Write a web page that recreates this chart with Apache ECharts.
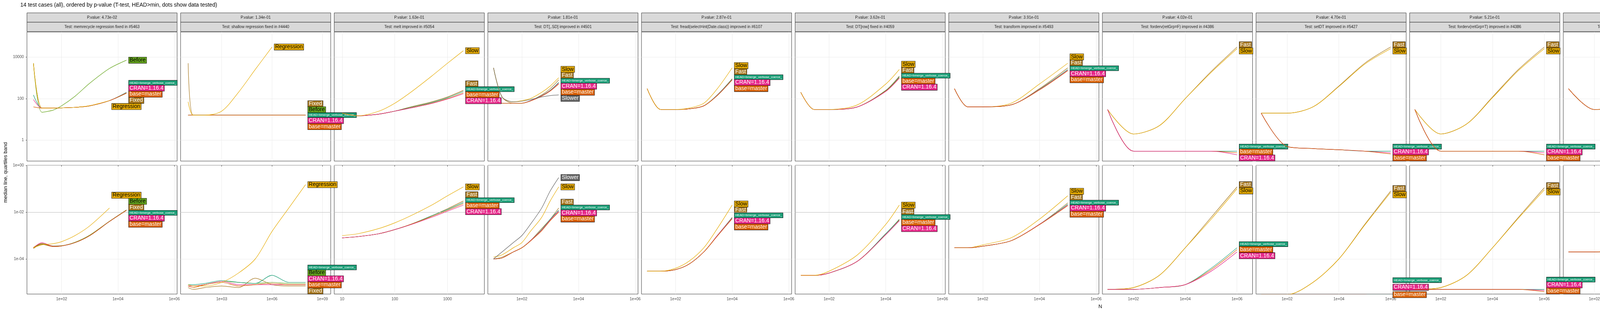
<!DOCTYPE html>
<html>
<head>
<meta charset="utf-8">
<script src="https://cdn.jsdelivr.net/npm/echarts@6/dist/echarts.min.js"></script>
<style>
    html, body { margin: 0; padding: 0; background: #fff; }
    #perf_facets { width: 5600px; height: 800px; }
</style>
</head>
<body>
<div id="perf_facets"></div>
<script>

// Setup module
// ------------------------------

var EchartsPerfFacets = function() {

    // Palette (Dark2)
    var GOLD = '#E6AB02', BROWN = '#A6761D', GREEN = '#66A61E', PINK = '#E7298A',
        ORANGE = '#D95F02', TEAL = '#1B9E77', GREY = '#666666';

    var HEAD = 'HEAD=bmerge_verbose_coerce_', CRAN = 'CRAN=1.16.4', BASE = 'base=master';

    // Panels: N values, then per series memory (kilobytes) and time (seconds)
    var panels = [
        { p: '4.73e-02', t: 'Test: memrecycle regression fixed in #5463', xr: [0.77, 6.1], xt: [2, 4, 6], fmt: 'sci',
          N: [10, 20, 50, 100, 300, 1000, 5000, 20000],
          s: [
            { n: 'Before', c: GREEN, m: [5000, 22, 28, 45, 130, 550, 2800, 7000], t: [3e-4, 4.6e-4, 3.6e-4, 3.7e-4, 5.2e-4, 1.05e-3, 4.1e-3, 1.25e-2] },
            { n: 'Fixed', c: BROWN, m: [5000, 35, 35, 36, 38, 45, 80, 180], t: [2.8e-4, 4.2e-4, 3.4e-4, 3.6e-4, 5e-4, 1e-3, 4e-3, 1.2e-2] },
            { n: HEAD, c: TEAL, m: [150, 35, 35, 36, 38, 45, 80, 200], t: [3e-4, 4.4e-4, 3.5e-4, 3.6e-4, 5e-4, 1e-3, 4e-3, 1.2e-2] },
            { n: CRAN, c: PINK, m: [90, 35, 35, 36, 38, 45, 80, 190], t: [3e-4, 5e-4, 3.5e-4, 3.6e-4, 5e-4, 1e-3, 4e-3, 1.2e-2] },
            { n: BASE, c: ORANGE, m: [40, 35, 35, 36, 38, 45, 80, 185], t: [3.1e-4, 4.5e-4, 3.4e-4, 3.6e-4, 5e-4, 1e-3, 4e-3, 1.2e-2] },
            { n: 'Regression', c: GOLD, m: [5000, 35, 35, 36, 38, 46, 80], t: [3e-4, 4e-4, 4.5e-4, 5.5e-4, 1e-3, 2.6e-3, 1.5e-2] }
          ] },
        { p: '1.34e-01', t: 'Test: shallow regression fixed in #4440', xr: [0.55, 9.5], xt: [3, 6, 9], fmt: 'sci',
          N: [10, 20, 100, 1000, 1e4, 1e5, 1e6, 1e7, 1e8],
          s: [
            { n: 'Fixed', c: BROWN, m: [5000, 16, 16, 16, 16, 16, 16, 16, 16], t: [6e-6, 5e-6, 6e-6, 7e-6, 6e-6, 1.5e-5, 8e-6, 7e-6, 7e-6] },
            { n: 'Before', c: GREEN, m: [16, 16, 16, 16, 16, 16, 16, 16, 16], t: [7e-6, 7e-6, 8e-6, 1.1e-5, 1e-5, 9e-6, 1e-5, 9e-6, 9e-6] },
            { n: HEAD, c: TEAL, m: [16, 16, 16, 16, 16, 16, 16, 16, 16], t: [8e-6, 8e-6, 9e-6, 1.2e-5, 1e-5, 9e-6, 2e-5, 1e-5, 1e-5] },
            { n: CRAN, c: PINK, m: [16, 16, 16, 16, 16, 16, 16, 16, 16], t: [7e-6, 7e-6, 8e-6, 1.1e-5, 8e-6, 8e-6, 8e-6, 8e-6, 8e-6] },
            { n: BASE, c: ORANGE, m: [16, 16, 16, 16, 16, 16, 16, 16, 16], t: [7e-6, 6e-6, 8e-6, 1e-5, 7e-6, 8e-6, 9e-6, 8e-6, 8e-6] },
            { n: 'Regression', c: GOLD, m: [70, 16, 16, 25, 200, 2500, 30000], t: [8e-6, 7e-6, 7e-6, 1e-5, 2.5e-5, 1e-4, 1.5e-3, 1.5e-2, 1.5e-1] }
          ] },
        { p: '1.63e-01', t: 'Test: melt improved in #5054', xr: [0.85, 3.7], xt: [1, 2, 3], fmt: 'plain',
          N: [10, 20, 50, 100, 200, 500, 1000, 2000],
          s: [
            { n: 'Fast', c: BROWN, m: [20, 15, 18, 25, 40, 70, 120, 250], t: [8e-4, 9e-4, 1.2e-3, 1.8e-3, 3e-3, 7e-3, 1.4e-2, 3e-2] },
            { n: HEAD, c: TEAL, m: [20, 15, 18, 25, 38, 65, 110, 220], t: [8e-4, 9e-4, 1.2e-3, 1.8e-3, 3e-3, 7e-3, 1.3e-2, 2.6e-2] },
            { n: BASE, c: ORANGE, m: [20, 15, 18, 25, 36, 60, 100, 190], t: [8e-4, 9e-4, 1.2e-3, 1.8e-3, 3e-3, 6.5e-3, 1.2e-2, 2.3e-2] },
            { n: CRAN, c: PINK, m: [20, 15, 18, 25, 35, 58, 95, 170], t: [8e-4, 9e-4, 1.2e-3, 1.8e-3, 2.9e-3, 6e-3, 1.1e-2, 2e-2] },
            { n: 'Slow', c: GOLD, m: [20, 15, 25, 60, 200, 1200, 5000, 20000], t: [1e-3, 1.2e-3, 2e-3, 3.5e-3, 7e-3, 2e-2, 5e-2, 1.2e-1] }
          ] },
        { p: '1.81e-01', t: 'Test: DT[,.SD] improved in #4501', xr: [0.8, 6.1], xt: [2, 4, 6], fmt: 'sci',
          N: [10, 20, 50, 100, 200, 500, 1000, 2000],
          s: [
            { n: 'Fast', c: BROWN, m: [3000, 120, 60, 60, 80, 150, 300, 800], t: [1e-4, 1.2e-4, 2e-4, 3e-4, 6e-4, 2e-3, 5e-3, 1.5e-2] },
            { n: HEAD, c: TEAL, m: [150, 60, 60, 60, 80, 140, 250, 600], t: [1e-4, 1.1e-4, 2e-4, 3e-4, 6e-4, 1.8e-3, 5e-3, 1.2e-2] },
            { n: CRAN, c: PINK, m: [100, 60, 60, 60, 78, 135, 240, 550], t: [1e-4, 1.1e-4, 2e-4, 3e-4, 6e-4, 1.7e-3, 4.6e-3, 1.1e-2] },
            { n: BASE, c: ORANGE, m: [60, 60, 60, 60, 76, 130, 230, 500], t: [1e-4, 1.1e-4, 2e-4, 3e-4, 5.8e-4, 1.6e-3, 4.3e-3, 1e-2] },
            { n: 'Slow', c: GOLD, m: [3000, 120, 70, 80, 100, 200, 400, 1000], t: [1.2e-4, 1.5e-4, 3e-4, 5e-4, 1.5e-3, 6e-3, 3e-2, 1.2e-1] },
            { n: 'Slower', c: GREY, m: [3000, 120, 70, 75, 90, 120, 140, 150], t: [1e-4, 2e-4, 5e-4, 1e-3, 3e-3, 1.5e-2, 8e-2, 3e-1] }
          ] },
        { p: '2.87e-01', t: 'Test: fread(select=int(Date.class)) improved in #6107', xr: [0.8, 6.1], xt: [2, 4, 6], fmt: 'sci',
          N: [10, 30, 100, 300, 1000, 3000, 10000],
          s: [
            { n: 'Fast', c: BROWN, m: [300, 30, 30, 32, 45, 150, 900], t: [3e-5, 3e-5, 3.5e-5, 6e-5, 2e-4, 1e-3, 6e-3] },
            { n: HEAD, c: TEAL, m: [300, 30, 30, 32, 45, 150, 850], t: [3e-5, 3e-5, 3.5e-5, 6e-5, 2e-4, 1e-3, 5.8e-3] },
            { n: CRAN, c: PINK, m: [300, 30, 30, 32, 45, 145, 800], t: [3e-5, 3e-5, 3.5e-5, 6e-5, 2e-4, 1e-3, 5.5e-3] },
            { n: BASE, c: ORANGE, m: [300, 30, 30, 32, 45, 140, 780], t: [3e-5, 3e-5, 3.5e-5, 6e-5, 2e-4, 9.5e-4, 5.2e-3] },
            { n: 'Slow', c: GOLD, m: [300, 30, 30, 35, 60, 300, 3000], t: [3e-5, 3e-5, 4e-5, 8e-5, 3e-4, 2e-3, 2e-2] }
          ] },
        { p: '3.62e-01', t: 'Test: DT[row] fixed in #4059', xr: [0.8, 6.1], xt: [2, 4, 6], fmt: 'sci',
          N: [10, 30, 100, 1000, 10000, 30000],
          s: [
            { n: 'Fast', c: BROWN, m: [200, 30, 30, 40, 250, 1200], t: [2e-5, 2e-5, 2.5e-5, 8e-5, 1.2e-3, 5e-3] },
            { n: HEAD, c: TEAL, m: [200, 30, 30, 40, 240, 1100], t: [2e-5, 2e-5, 2.5e-5, 8e-5, 1.2e-3, 4.8e-3] },
            { n: BASE, c: ORANGE, m: [200, 30, 30, 40, 230, 1000], t: [2e-5, 2e-5, 2.5e-5, 8e-5, 1.1e-3, 4.5e-3] },
            { n: CRAN, c: PINK, m: [200, 30, 30, 40, 220, 950], t: [2e-5, 2e-5, 2.5e-5, 8e-5, 1.1e-3, 4.3e-3] },
            { n: 'Slow', c: GOLD, m: [200, 30, 30, 50, 500, 2500], t: [2e-5, 2e-5, 3e-5, 1.5e-4, 3e-3, 2e-2] }
          ] },
        { p: '3.91e-01', t: 'Test: transform improved in #5493', xr: [0.8, 6.1], xt: [2, 4, 6], fmt: 'sci',
          N: [10, 30, 100, 1000, 10000, 100000],
          s: [
            { n: 'Fast', c: BROWN, m: [300, 40, 40, 50, 300, 3000], t: [3e-4, 3e-4, 3.5e-4, 6e-4, 3e-3, 2.5e-2] },
            { n: 'Slow', c: GOLD, m: [300, 40, 40, 60, 500, 5000], t: [3e-4, 3e-4, 4e-4, 8e-4, 5e-3, 5e-2] },
            { n: HEAD, c: TEAL, m: [300, 40, 40, 50, 280, 2500], t: [3e-4, 3e-4, 3.5e-4, 6e-4, 3e-3, 2.2e-2] },
            { n: CRAN, c: PINK, m: [300, 40, 40, 50, 270, 2300], t: [3e-4, 3e-4, 3.5e-4, 6e-4, 3e-3, 2e-2] },
            { n: BASE, c: ORANGE, m: [300, 40, 40, 50, 260, 2200], t: [3e-4, 3e-4, 3.5e-4, 6e-4, 2.9e-3, 1.9e-2] }
          ] },
        { p: '4.02e-01', t: 'Test: forderv(retGrp=F) improved in #4386', xr: [0.8, 6.6], xt: [2, 4, 6], fmt: 'sci',
          N: [10, 100, 1000, 10000, 100000, 1000000],
          s: [
            { n: 'Fast', c: BROWN, m: [30, 2, 5, 100, 2000, 30000], t: [5e-6, 6e-6, 2e-5, 3e-4, 6e-3, 1.2e-1] },
            { n: 'Slow', c: GOLD, m: [30, 2, 5, 100, 1800, 25000], t: [5e-6, 6e-6, 2e-5, 3e-4, 5e-3, 1e-1] },
            { n: HEAD, c: TEAL, m: [30, 0.3, 0.3, 0.3, 0.3, 0.3], t: [5e-6, 5e-6, 6e-6, 8e-6, 4e-5, 3e-4] },
            { n: BASE, c: ORANGE, m: [30, 0.3, 0.3, 0.3, 0.3, 0.25], t: [5e-6, 5e-6, 6e-6, 8e-6, 3.5e-5, 2.5e-4] },
            { n: CRAN, c: PINK, m: [30, 0.3, 0.3, 0.3, 0.3, 0.2], t: [5e-6, 5e-6, 6e-6, 8e-6, 3e-5, 2e-4] }
          ] },
        { p: '4.70e-01', t: 'Test: setDT improved in #5427', xr: [0.8, 6.6], xt: [2, 4, 6], fmt: 'sci',
          N: [10, 100, 1000, 10000, 100000, 1000000],
          s: [
            { n: 'Fast', c: BROWN, m: [20, 20, 40, 400, 5000, 30000], t: [3e-6, 3e-6, 1e-5, 1e-4, 3e-3, 8e-2] },
            { n: 'Slow', c: GOLD, m: [20, 20, 40, 380, 4500, 25000], t: [3e-6, 3e-6, 1e-5, 1e-4, 2.8e-3, 7e-2] },
            { n: HEAD, c: TEAL, m: [20, 0.5, 0.4, 0.35, 0.3, 0.3], t: [3e-6, 3e-6, 3e-6, 3e-6, 3e-6, 3e-6] },
            { n: CRAN, c: PINK, m: [20, 0.5, 0.4, 0.35, 0.3, 0.25], t: [3e-6, 3e-6, 3e-6, 3e-6, 3e-6, 2.5e-6] },
            { n: BASE, c: ORANGE, m: [20, 0.5, 0.4, 0.35, 0.3, 0.22], t: [3e-6, 3e-6, 3e-6, 3e-6, 3e-6, 2.2e-6] }
          ] },
        { p: '5.21e-01', t: 'Test: forderv(retGrp=T) improved in #4386', xr: [0.8, 6.6], xt: [2, 4, 6], fmt: 'sci',
          N: [10, 100, 1000, 10000, 100000, 1000000],
          s: [
            { n: 'Fast', c: BROWN, m: [30, 2, 6, 120, 2500, 30000], t: [5e-6, 6e-6, 2e-5, 3e-4, 6e-3, 1.1e-1] },
            { n: 'Slow', c: GOLD, m: [30, 2, 6, 110, 2200, 25000], t: [5e-6, 6e-6, 2e-5, 3e-4, 5.5e-3, 9e-2] },
            { n: HEAD, c: TEAL, m: [30, 0.3, 0.3, 0.3, 0.3, 0.3], t: [5e-6, 5e-6, 5e-6, 5e-6, 5e-6, 5e-6] },
            { n: CRAN, c: PINK, m: [30, 0.3, 0.3, 0.3, 0.3, 0.25], t: [5e-6, 5e-6, 5e-6, 5e-6, 5e-6, 4.5e-6] },
            { n: BASE, c: ORANGE, m: [30, 0.3, 0.3, 0.3, 0.3, 0.2], t: [5e-6, 5e-6, 5e-6, 5e-6, 5e-6, 4e-6] }
          ] },
        { p: '5.53e-01', t: 'Test: DT[by,verbose=TRUE] improved in #6296', xr: [0.8, 6.6], xt: [2, 4, 6], fmt: 'sci',
          N: [10, 100, 1000, 10000, 100000, 1000000],
          s: [
            { n: 'Fast', c: BROWN, m: [300, 30, 35, 60, 400, 4000], t: [2e-4, 2e-4, 2.5e-4, 6e-4, 4e-3, 4e-2] },
            { n: 'Slow', c: GOLD, m: [300, 30, 35, 70, 600, 6000], t: [2e-4, 2e-4, 3e-4, 8e-4, 6e-3, 6e-2] },
            { n: HEAD, c: TEAL, m: [300, 30, 35, 60, 380, 3500], t: [2e-4, 2e-4, 2.5e-4, 6e-4, 3.8e-3, 3.6e-2] },
            { n: CRAN, c: PINK, m: [300, 30, 35, 60, 360, 3200], t: [2e-4, 2e-4, 2.5e-4, 6e-4, 3.6e-3, 3.3e-2] },
            { n: BASE, c: ORANGE, m: [300, 30, 35, 60, 350, 3000], t: [2e-4, 2e-4, 2.5e-4, 6e-4, 3.5e-3, 3e-2] }
          ] },
        { p: '7.44e-01', t: 'Test: fread(colClasses=Date) fixed in #6107', xr: [0.8, 6.1], xt: [2, 4, 6], fmt: 'sci',
          N: [10, 100, 1000, 10000, 100000],
          s: [
            { n: 'Fast', c: BROWN, m: [50, 30, 50, 300, 3000], t: [1e-4, 1.5e-4, 6e-4, 5e-3, 5e-2] },
            { n: HEAD, c: TEAL, m: [50, 30, 50, 280, 2600], t: [1e-4, 1.5e-4, 6e-4, 4.5e-3, 4e-2] },
            { n: 'Slow', c: GOLD, m: [50, 30, 55, 350, 2000], t: [1e-4, 1.6e-4, 7e-4, 6e-3, 3e-2] },
            { n: CRAN, c: PINK, m: [50, 30, 50, 260, 1500], t: [1e-4, 1.5e-4, 6e-4, 4e-3, 2e-2] },
            { n: BASE, c: ORANGE, m: [50, 30, 50, 250, 1300], t: [1e-4, 1.5e-4, 6e-4, 3.8e-3, 1.8e-2] }
          ] },
        { p: '8.64e-01', t: 'Test: fread(colClasses=Date[data.frame]) improved in #6107', xr: [0.8, 6.1], xt: [2, 4, 6], fmt: 'sci',
          N: [10, 100, 1000, 10000, 100000],
          s: [
            { n: 'Fast', c: BROWN, m: [40, 25, 45, 300, 3500], t: [1e-4, 1.4e-4, 5e-4, 4e-3, 4e-2] },
            { n: 'Slow', c: GOLD, m: [40, 25, 45, 280, 2800], t: [1e-4, 1.4e-4, 5e-4, 3.8e-3, 3.5e-2] },
            { n: HEAD, c: TEAL, m: [40, 25, 45, 270, 2500], t: [1e-4, 1.4e-4, 5e-4, 3.6e-3, 3.2e-2] },
            { n: CRAN, c: PINK, m: [40, 25, 45, 260, 2200], t: [1e-4, 1.4e-4, 5e-4, 3.4e-3, 2.8e-2] },
            { n: BASE, c: ORANGE, m: [40, 25, 45, 250, 2000], t: [1e-4, 1.4e-4, 5e-4, 3.3e-3, 2.6e-2] }
          ] },
        { p: '8.80e-01', t: 'Test: fwrite refactored in #6393', xr: [0.86, 4.15], xt: [1, 2, 3, 4], fmt: 'plain',
          N: [10, 20, 50, 100, 200, 500, 1000],
          s: [
            { n: 'PR', c: GREY, m: [20000, 0.7, 0.7, 0.7, 0.7, 0.7, 0.7], t: [1e-5, 2e-5, 5e-5, 1e-4, 2.2e-4, 1e-3, 1.1e-2] },
            { n: HEAD, c: TEAL, m: [20000, 0.7, 0.7, 0.7, 0.7, 0.7, 0.7], t: [1e-5, 2e-5, 5e-5, 1e-4, 2.2e-4, 1e-3, 1.1e-2] },
            { n: BASE, c: ORANGE, m: [20000, 0.7, 0.7, 0.7, 0.7, 0.7, 0.7], t: [1e-5, 2e-5, 5e-5, 1e-4, 2.2e-4, 1e-3, 1.1e-2] },
            { n: 'Before', c: GREEN, m: [0.12, 0.12, 0.12, 0.12, 0.12, 0.12, 0.12], t: [1e-5, 2e-5, 5e-5, 1e-4, 2.2e-4, 1e-3, 1.1e-2] },
            { n: CRAN, c: PINK, m: [0.12, 0.12, 0.12, 0.12, 0.12, 0.12, 0.12], t: [1e-5, 2e-5, 5e-5, 1e-4, 2.2e-4, 1e-3, 1.1e-2] }
          ] }
    ];

    var FONT = '"Liberation Sans Narrow", "Liberation Sans", sans-serif';
    var LEFT = 69, PW = 384.4, GAP = 8.9;
    var ROWS = [ { top: 82, h: 331, key: 'm', min: -1, max: 5.2, unit: 'unit: kilobytes' },
                 { top: 424, h: 330, key: 't', min: -5.5, max: 0, unit: 'unit: seconds' } ];

    var sci = function(v) {
        var e = Math.round(v);
        return '1e' + (e < 0 ? '-' : '+') + (Math.abs(e) < 10 ? '0' : '') + Math.abs(e);
    };
    var intsIn = function(a, b) {
        var out = [];
        for (var k = Math.ceil(a); k <= b; k++) out.push(k);
        return out;
    };

    var _perfFacets = function() {
        if (typeof echarts == 'undefined') {
            console.warn('Warning - echarts.min.js is not loaded.');
            return;
        }
        var el = document.getElementById('perf_facets');
        if (!el) return;
        var chart = echarts.init(el);

        var grid = [], xAxis = [], yAxis = [], series = [], graphic = [];

        // Title and axis names
        graphic.push({ type: 'text', left: 52, top: 6, style: { text: '14 test cases (all), ordered by p-value (T-test, HEAD>min, dots show data tested)', font: '14px ' + FONT, fill: '#000' } });
        graphic.push({ type: 'text', x: 8, y: 520, rotation: Math.PI / 2, style: { text: 'median line, quartiles band', font: '13px ' + FONT, fill: '#000' } });
        graphic.push({ type: 'text', x: 2812, y: 780, style: { text: 'N', font: '13px ' + FONT, fill: '#000' } });

        ROWS.forEach(function(row, r) {
            graphic.push({ type: 'rect', shape: { x: 5568, y: row.top, width: 24, height: row.h }, style: { fill: '#D9D9D9', stroke: '#333', lineWidth: 1 } });
            graphic.push({ type: 'text', x: 5574, y: row.top + row.h / 2 - 30, rotation: -Math.PI / 2, style: { text: row.unit, font: '10px ' + FONT, fill: '#1a1a1a' } });
        });

        panels.forEach(function(pn, i) {
            var left = LEFT + i * (PW + GAP);

            // Strips
            graphic.push({ type: 'rect', shape: { x: left, y: 33, width: PW, height: 24 }, style: { fill: '#D9D9D9', stroke: '#333', lineWidth: 1 } });
            graphic.push({ type: 'rect', shape: { x: left, y: 57, width: PW, height: 24 }, style: { fill: '#D9D9D9', stroke: '#333', lineWidth: 1 } });
            graphic.push({ type: 'text', x: left + PW / 2, y: 45, style: { text: 'P.value: ' + pn.p, font: '10px ' + FONT, fill: '#1a1a1a', align: 'center', verticalAlign: 'middle' } });
            graphic.push({ type: 'text', x: left + PW / 2, y: 69, style: { text: pn.t, font: '10px ' + FONT, fill: '#1a1a1a', align: 'center', verticalAlign: 'middle' } });

            ROWS.forEach(function(row, r) {
                var idx = grid.length;
                grid.push({ left: left, top: row.top, width: PW, height: row.h, show: true, borderColor: '#333', borderWidth: 1, backgroundColor: '#fff' });

                xAxis.push({
                    type: 'value', gridIndex: idx, min: pn.xr[0], max: pn.xr[1],
                    axisLine: { show: false },
                    axisTick: { show: r === 1, length: 3, lineStyle: { color: '#333' }, customValues: pn.xt },
                    axisLabel: { show: r === 1, customValues: pn.xt, color: '#4d4d4d', fontFamily: FONT, fontSize: 10,
                        formatter: function(v) { return pn.fmt === 'sci' ? sci(v) : String(Math.round(Math.pow(10, v))); } },
                    splitLine: { show: true, lineStyle: { color: '#EBEBEB', width: 1 } }
                });

                var ticks = intsIn(row.min, row.max);
                var labs = ticks.filter(function(k) { return k % 2 === 0; });
                yAxis.push({
                    type: 'value', gridIndex: idx, min: row.min, max: row.max,
                    axisLine: { show: false },
                    axisTick: { show: i === 0, length: 3, lineStyle: { color: '#333' }, customValues: labs },
                    axisLabel: { show: i === 0, customValues: labs, color: '#4d4d4d', fontFamily: FONT, fontSize: 10,
                        formatter: function(v) { return r === 0 ? String(Math.round(Math.pow(10, v))) : sci(v); } },
                    splitLine: { show: true, lineStyle: { color: '#EBEBEB', width: 1 } }
                });

                pn.s.forEach(function(s, j) {
                    var vals = s[row.key];
                    var data = vals.map(function(v, k) { return [Math.log10(pn.N[k]), Math.log10(v)]; });
                    var isHead = s.n === HEAD;
                    var dark = (s.c === GOLD || s.c === GREEN);
                    var ser = {
                        type: 'line', name: s.n, xAxisIndex: idx, yAxisIndex: idx,
                        data: data, showSymbol: false, smooth: 0.3, clip: true,
                        lineStyle: { color: s.c, width: 1.2 }, itemStyle: { color: s.c },
                        z: 3 + j, animation: false,
                        endLabel: {
                            show: true, formatter: s.n, distance: 6,
                            color: dark ? '#000' : '#fff',
                            backgroundColor: s.c, borderColor: '#000', borderWidth: 0.8,
                            padding: isHead ? [1, 2] : [0, 2],
                            fontFamily: FONT, fontSize: isHead ? 8 : 14, lineHeight: isHead ? 10 : 15
                        }
                    };
                    ser._grid = idx;
                    ser._h = isHead ? 12 : 16;
                    if (r === 1 && j === 0) {
                        ser.markLine = { silent: true, symbol: 'none', label: { show: false },
                            lineStyle: { color: '#bbbbbb', type: 'solid', width: 1.2 }, data: [{ yAxis: -2 }] };
                    }
                    series.push(ser);
                });
            });
        });

        chart.setOption({
            animation: false,
            textStyle: { fontFamily: FONT },
            grid: grid, xAxis: xAxis, yAxis: yAxis, series: series, graphic: graphic
        });

        // Spread end labels within each panel so they do not overlap
        var groups = {};
        series.forEach(function(ser, k) {
            var last = ser.data[ser.data.length - 1];
            var px = chart.convertToPixel({ gridIndex: ser._grid }, last);
            var g = grid[ser._grid];
            var y = Math.max(g.top, Math.min(g.top + g.height, px[1]));
            (groups[ser._grid] = groups[ser._grid] || []).push({ k: k, y0: y, y: y, h: ser._h, top: g.top, bot: g.top + g.height });
        });
        Object.keys(groups).forEach(function(key) {
            var items = groups[key].sort(function(a, b) { return a.y0 - b.y0; });
            for (var pass = 0; pass < 30; pass++) {
                var moved = false;
                for (var q = 1; q < items.length; q++) {
                    var a = items[q - 1], b = items[q];
                    var need = (a.h + b.h) / 2 - (b.y - a.y);
                    if (need > 0.5) {
                        a.y -= need / 2; b.y += need / 2; moved = true;
                    }
                }
                items.forEach(function(it) {
                    if (it.y - it.h / 2 < it.top) it.y = it.top + it.h / 2;
                    if (it.y + it.h / 2 > it.bot) it.y = it.bot - it.h / 2;
                });
                if (!moved) break;
            }
            items.forEach(function(it) {
                series[it.k].endLabel.offset = [0, it.y - it.y0];
            });
        });
        series.forEach(function(ser) { delete ser._grid; delete ser._h; });
        chart.setOption({ series: series });
    };

    return {
        init: function() {
            _perfFacets();
        }
    }
}();


// Initialize module
// ------------------------------

document.addEventListener('DOMContentLoaded', function() {
    EchartsPerfFacets.init();
});
</script>
</body>
</html>
